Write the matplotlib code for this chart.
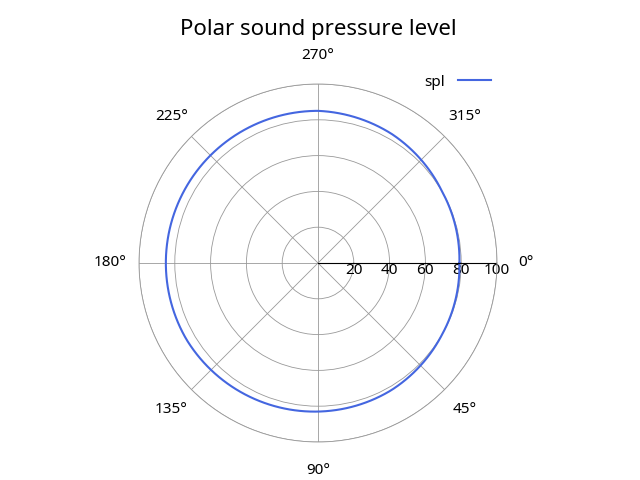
import numpy as np
import matplotlib
matplotlib.use("Agg")
import matplotlib.pyplot as plt

plt.rcParams['font.family'] = ['Noto Sans', 'DejaVu Sans']

angles_deg = [0, 30, 60, 90, 120, 150, 180, 210, 240, 270, 300, 330, 360]
spl = [79, 80, 82, 83, 84, 85, 85, 85, 85, 85, 83, 80, 79]
r_ticks = [20, 40, 60, 80, 100]
theta_ticks = [0, 45, 90, 135, 180, 225, 270, 315]

a = np.deg2rad(angles_deg)
fine = np.linspace(0, 2*np.pi, 361)
vals = np.interp(fine, a, spl)

fig = plt.figure(figsize=(6.4, 4.8), dpi=100)
ax = fig.add_axes([(318-179)/640, (480-263-179)/480, 358/640, 358/480], projection='polar')
ax.set_theta_direction(-1)
ax.set_theta_zero_location('E')
ax.plot(fine, vals, color='#4466e0', lw=1.5, label='spl')
ax.set_ylim(0, 100)
ax.set_yticks(r_ticks)
ax.set_yticklabels([str(t) for t in r_ticks], fontsize=11)
ax.set_rlabel_position(0)
for lab in ax.get_yticklabels():
    lab.set_verticalalignment('top')
    lab.set_horizontalalignment('center')
ax.set_xticks(np.deg2rad(theta_ticks))
ax.set_xticklabels([f"{t}°" for t in theta_ticks], fontsize=11)
ax.grid(color='#999999', lw=0.6)
ax.spines['polar'].set_color('#999999')
ax.spines['polar'].set_linewidth(0.6)
ax.plot([0, 0], [0, 100], color='black', lw=0.8)
ax.tick_params(axis='x', pad=10)
fig.text(318/640, 1-30/480, 'Polar sound pressure level', fontsize=16, ha='center', va='center')
ax.legend(loc='center right', bbox_to_anchor=(505/640, 1-82/480), bbox_transform=fig.transFigure,
          frameon=False, fontsize=11, markerfirst=False, handlelength=2.2)
fig.savefig('out.png', dpi=100)
